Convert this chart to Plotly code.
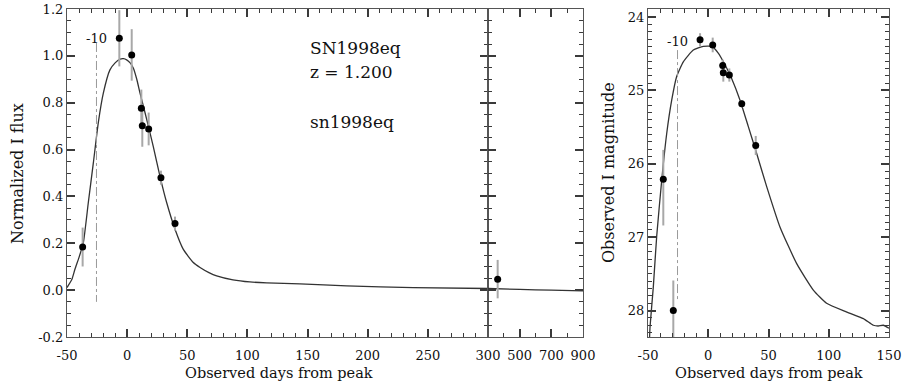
import plotly.graph_objects as go

W, H = 904, 388

# ---------------- photometry: normalized I flux ----------------
flux_days = [-37.0, -6.5, 3.8, 11.8, 12.6, 17.9, 28.1, 39.8]
flux_vals = [0.184, 1.075, 1.004, 0.776, 0.702, 0.688, 0.480, 0.284]
flux_errs = [0.083, 0.120, 0.110, 0.080, 0.090, 0.070, 0.030, 0.030]

late_days = [361.0]
late_flux = [0.047]
late_errs = [0.082]

# template fit in flux
model_days = [-50, -46, -43.4, -40, -36.4, -32.3, -28.1, -24, -19.8, -14.3, -10,
              -5.9, -3, -0.4, 2.5, 5.1, 8, 10.7, 13.5, 16.3, 21.7, 27.3, 32.9,
              39.8, 46.7, 55, 60.6, 68, 74.4, 88, 102, 116, 143.7, 182.5, 237.9, 300]
model_flux = [0.011, 0.045, 0.089, 0.14, 0.203, 0.373, 0.543, 0.714, 0.841, 0.94, 0.97,
              0.986, 0.988, 0.983, 0.97, 0.948, 0.90, 0.841, 0.785, 0.728, 0.614, 0.486, 0.373,
              0.26, 0.174, 0.118, 0.097, 0.075, 0.061, 0.044, 0.035, 0.031, 0.027, 0.018, 0.011, 0.007]
late_model_days = [300, 500, 700, 900]
late_model_flux = [0.007, 0.003, 0.0, -0.003]

# ---------------- photometry: observed I magnitude ----------------
mag_days = [-37.3, -29.0, -6.8, 3.7, 12.0, 12.5, 17.5, 27.8, 39.4]
mag_vals = [26.21, 28.00, 24.31, 24.38, 24.66, 24.76, 24.79, 25.18, 25.75]
mag_err_lo = [0.40, 0.41, 0.09, 0.10, 0.08, 0.12, 0.09, 0.05, 0.13]
mag_err_hi = [0.63, 0.60, 0.09, 0.10, 0.08, 0.12, 0.09, 0.05, 0.13]

mag_model_days = [-49, -48.3, -45.6, -42.8, -38.6, -34.5, -30.3, -26.2, -20.7, -12.4, -4.1,
                  2.9, 8.3, 13.9, 19.5, 26.3, 33.2, 40.2, 48.5, 59.5, 73.4, 87.2, 98.2,
                  115, 128.7, 137, 141, 145.3, 150]
mag_model_vals = [28.5, 28.22, 27.68, 26.99, 26.22, 25.59, 25.13, 24.81, 24.61, 24.45, 24.40,
                  24.40, 24.49, 24.65, 24.84, 25.13, 25.49, 25.86, 26.31, 26.86, 27.36, 27.72, 27.9,
                  28.02, 28.11, 28.2, 28.21, 28.2, 28.24]

# tick labels
flux_ticks = [-0.2, 0.0, 0.2, 0.4, 0.6, 0.8, 1.0, 1.2]
flux_tick_text = ["-0.2", "0.0", "0.2", "0.4", "0.6", "0.8", "1.0", "1.2"]
day_ticks = [-50, 0, 50, 100, 150, 200, 250]
day_tick_text = ["-50", "0", "50", "100", "150", "200", "250"]
late_ticks = [300, 500, 700, 900]
late_tick_text = ["300", "500", "700", "900"]
mag_day_ticks = [-50, 0, 50, 100, 150]
mag_day_tick_text = ["-50", "0", "50", "100", "150"]
mag_ticks = [24, 25, 26, 27, 28]

# rest-frame day -10 marker
epoch_day = -25.5
epoch_label = "-10"
epoch_flux_span = [1.055, -0.05]
epoch_mag_span = [24.45, 27.88]

sn_name = "SN1998eq"
sn_redshift = "z = 1.200"
sn_template = "sn1998eq"

FONT = "DejaVu Serif"
INK = "#111111"
FRAME = "#555555"
TICK = "#3a3a3a"
ERR = "#a8a8a8"


def px(xp):
    return xp / W


def py(yp):
    return 1 - yp / H


fig = go.Figure()

line_style = dict(color="#333333", width=1.3, shape="spline", smoothing=0.5)

# ---- left panel (flux, -50..300 d) ----
fig.add_trace(go.Scatter(x=model_days, y=model_flux, mode="lines", line=line_style,
                         xaxis="x", yaxis="y", hoverinfo="skip"))
fig.add_trace(go.Scatter(x=[epoch_day, epoch_day], y=epoch_flux_span, mode="lines",
                         line=dict(color="#9a9a9a", width=1, dash="dashdot"), xaxis="x", yaxis="y"))
fig.add_trace(go.Scatter(x=flux_days, y=flux_vals, mode="markers",
                         marker=dict(color="black", size=7),
                         error_y=dict(type="data", array=flux_errs, color=ERR, thickness=2, width=0),
                         xaxis="x", yaxis="y"))

# ---- late-time panel (300..900 d) ----
fig.add_trace(go.Scatter(x=late_model_days, y=late_model_flux, mode="lines", line=line_style,
                         xaxis="x2", yaxis="y2"))
fig.add_trace(go.Scatter(x=late_days, y=late_flux, mode="markers",
                         marker=dict(color="black", size=7),
                         error_y=dict(type="data", array=late_errs, color=ERR, thickness=2, width=0),
                         xaxis="x2", yaxis="y2"))

# ---- right panel (magnitudes) ----
fig.add_trace(go.Scatter(x=mag_model_days, y=mag_model_vals, mode="lines", line=line_style,
                         xaxis="x3", yaxis="y3"))
fig.add_trace(go.Scatter(x=[epoch_day, epoch_day], y=epoch_mag_span, mode="lines",
                         line=dict(color="#9a9a9a", width=1, dash="dashdot"), xaxis="x3", yaxis="y3"))
fig.add_trace(go.Scatter(x=mag_days, y=mag_vals, mode="markers",
                         marker=dict(color="black", size=7),
                         error_y=dict(type="data", symmetric=False, array=mag_err_hi, arrayminus=mag_err_lo,
                                      color=ERR, thickness=2, width=0),
                         xaxis="x3", yaxis="y3"))

ydom = [py(337), py(9)]
tickfont = dict(family=FONT, size=13, color=INK)


def axis_style(**kw):
    base = dict(showline=True, linecolor=FRAME, linewidth=1.2, mirror="ticks",
                ticks="inside", ticklen=8, tickcolor=TICK, tickwidth=1.5,
                showgrid=False, zeroline=False, tickfont=tickfont, automargin=False)
    base.update(kw)
    return base


def minor(step, start):
    return dict(dtick=step, tick0=start, ticklen=4, ticks="inside", tickcolor=TICK, tickwidth=1.3,
                showgrid=False)


fig.update_layout(
    width=W, height=H, autosize=False, showlegend=False,
    margin=dict(l=0, r=0, t=0, b=0, pad=0),
    paper_bgcolor="white", plot_bgcolor="white",
    xaxis=axis_style(domain=[px(67), px(488)], range=[-50, 300], anchor="y",
                     tickmode="array", tickvals=day_ticks, ticktext=day_tick_text,
                     minor=minor(10, 0), ticklabelstandoff=6),
    yaxis=axis_style(domain=ydom, range=[-0.2, 1.2], anchor="x",
                     tickmode="array", tickvals=flux_ticks, ticktext=flux_tick_text,
                     minor=minor(0.05, 0)),
    xaxis2=axis_style(domain=[px(488), px(583)], range=[300, 900], anchor="y2",
                      tickmode="array", tickvals=late_ticks, ticktext=late_tick_text,
                      minor=minor(100, 300), ticklabelstandoff=6),
    yaxis2=axis_style(domain=ydom, range=[-0.2, 1.2], anchor="x2",
                      tickmode="array", tickvals=flux_ticks, showticklabels=False,
                      minor=minor(0.05, 0)),
    xaxis3=axis_style(domain=[px(648), px(889)], range=[-50, 150], anchor="y3",
                      tickmode="array", tickvals=mag_day_ticks, ticktext=mag_day_tick_text,
                      minor=minor(10, 0), ticklabelstandoff=6),
    yaxis3=axis_style(domain=ydom, range=[28.36, 23.89], anchor="x3",
                      tickmode="array", tickvals=mag_ticks,
                      minor=minor(0.1, 24)),
)

annotations = [
    # axis titles
    dict(text="Observed days from peak", x=px(279), y=py(373), font=dict(family=FONT, size=14.5, color=INK)),
    dict(text="Observed days from peak", x=px(769), y=py(373), font=dict(family=FONT, size=14.5, color=INK)),
    dict(text="Normalized I flux", x=px(18), y=py(174), textangle=-90,
         font=dict(family=FONT, size=16, color=INK)),
    dict(text="Observed I magnitude", x=px(608), y=py(173), textangle=-90,
         font=dict(family=FONT, size=16, color=INK)),
    # object labels
    dict(text=sn_name, x=px(308), y=py(48), xanchor="left", font=dict(family=FONT, size=17, color=INK)),
    dict(text=sn_redshift, x=px(308), y=py(72), xanchor="left", font=dict(family=FONT, size=17, color=INK)),
    dict(text=sn_template, x=px(308), y=py(122), xanchor="left", font=dict(family=FONT, size=17, color=INK)),
]
for a in annotations:
    a.update(xref="paper", yref="paper", showarrow=False)
    a.setdefault("xanchor", "center")
    a.setdefault("yanchor", "middle")

# epoch labels placed on the data axes
annotations.append(dict(text=epoch_label, x=epoch_day, y=1.072, xref="x", yref="y", showarrow=False,
                        font=dict(family=FONT, size=13, color=INK)))
annotations.append(dict(text=epoch_label, x=epoch_day, y=24.336, xref="x3", yref="y3", showarrow=False,
                        font=dict(family=FONT, size=13, color=INK)))

fig.update_layout(annotations=annotations)

fig.write_html("out.html")
